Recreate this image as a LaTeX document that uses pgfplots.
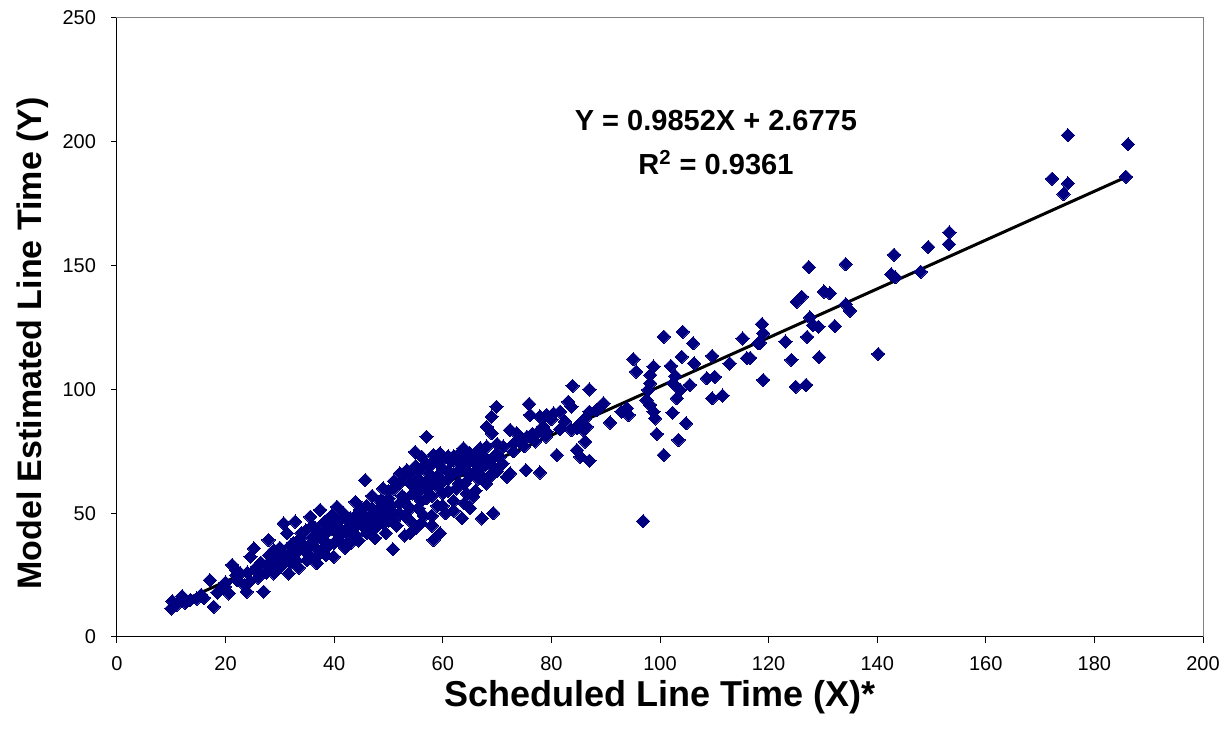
\documentclass[border=0pt]{standalone}
\usepackage{pgfplots}
\pgfplotsset{compat=1.18}
\usepackage{fontspec}
\setmainfont{Liberation Sans}
\definecolor{navyc}{HTML}{000080}
\definecolor{frame}{HTML}{808080}
\begin{document}
\begin{tikzpicture}
\path[use as bounding box] (-58.5pt,-51pt) rectangle (555.5pt,318.5pt);
\begin{axis}[
  at={(0,0)}, anchor=south west,
  scale only axis, width=543pt, height=309.5pt,
  xmin=0, xmax=200, ymin=0, ymax=250,
  xtick={0,20,...,200}, ytick={0,50,...,250},
  xtick pos=bottom, ytick pos=left,
  tick align=outside, major tick length=3pt,
  tick style={black, line width=0.5pt},
  axis line style={frame, line width=0.5pt},
  /pgf/number format/assume math mode=true,
  ticklabel style={font=\fontsize{10}{12}\selectfont},
  xticklabel style={yshift=-3pt},
  yticklabel style={xshift=-4pt},
  xlabel={\bfseries Scheduled Line Time (X)*},
  ylabel={\bfseries Model Estimated Line Time (Y)},
  xlabel style={font=\fontsize{18}{20}\selectfont, yshift=2pt},
  ylabel style={font=\fontsize{17}{20}\selectfont, yshift=0pt, xshift=-8pt},
  clip=false,
]
\addplot[only marks, mark=square*, mark size=2.35pt,
  mark options={rotate=45, fill=navyc, draw=navyc, line width=0pt}]
coordinates {
(10,11.5)(10.2,14.5)(11,13)(12,16.5)(12.6,13.8)(13.5,15)(14.7,15.5)(15.5,17)(16,15.8)(17.1,23)(17.8,12.2)(18.5,18)(19.5,20)(20,22)(19.9,20.3)(20.6,17.6)
(21.2,29.1)(22,25)(22.1,23)(22.7,25.7)(23.5,21)(23.9,18.3)(24.5,22.5)(24.6,32.4)(25.2,35.8)(25.5,27)(25.8,28.4)(26,24)(26.5,30)(27,18.3)(27.5,26)(27.9,39.2)(28,33)(28.5,29)(28.9,35.1)(28.9,25.7)(29.5,31)(30,36)(30.1,28.4)(30.5,33)
(30.7,45.9)(31.3,41.9)(31.6,25.7)(31.9,36.5)(32,30)(32.5,38)(32.8,46.6)(33,34)(33.5,28)(33.8,40)(34.4,35.1)(34.8,43)(35,31)(35.6,48.6)(35.6,32.4)(36,38)(36.5,44)(36.8,41.9)(36.8,29.8)(37,35)(37.4,51.3)(37.5,40)(38,46)(38.1,39.2)(38.5,33)(38.7,47.3)(39,43)(39.5,49)(39.9,32.4)(40,38)(40.5,52.6)(40.5,45)
(41,41)(41.7,50)(42,36)(42.4,37.8)(42.5,47)(43,41.9)(43.5,44)(43.9,54.6)(44,49)(44.5,39)(44.8,51.3)(45,46)(45.4,44.5)(45.7,63.4)(46,42)(46.5,48)(47,52)(47.5,40)(48,45)(48.5,55)(49,50)(49.5,42)(50,47)(50,56)
(50.5,53)(50.8,35.5)(51,60)(51.5,45)(52,50)(52.1,66.1)(52.5,57)(53,41)(53.4,67.4)(53.5,53)(54,62)(54,47)(54.5,58)(54.9,74.8)(55,44)(55.5,64)(55.5,52)(56,60)(56.1,72.8)(56.5,49)(57,80.9)(57,56)(57.5,66)(58,45)(58.3,73.5)(58.3,39.2)(58.5,62)(59,53)(59.5,74.2)(59.5,41.9)(60,58)(60,68)
(60.5,50)(61,64)(61.5,71)(62,55)(62.5,60)(63,67)(63.5,48)(63.8,76.2)(64,62)(64.4,58)(65,74.2)(65,52)(65.6,56.7)(66,70)(66.5,64)(66.9,76.2)(67,68)(67.2,47.9)(67.5,64.1)(68,72)(68.1,76.9)(68.1,84.9)(68.7,64.7)(69,89)(69,82.3)(69.3,50)(69.5,73)(69.9,93)(70,78)
(70.5,72.8)(71.1,76.9)(71.8,64.7)(72.4,83.6)(72.4,66.1)(73,78)(73.6,82.3)(74,80)(75.3,67.4)(75.5,80.9)(75.9,94.1)(76.1,89.7)(76.5,82)(77.3,82.3)(77.9,89)(77.9,66.4)(78.5,85)(79.1,89.7)(79.1,82.9)(80,88)
(80.4,90.3)(81,73.5)(81.6,91)(81.6,83.9)(82.5,87)(83.1,95)(83.7,93)(83.7,83.6)(83.9,101.4)(84.7,84.3)(84.7,75.5)(85.3,86.3)(85.3,72.8)(85.9,83.6)(86.2,88.3)(86.2,78.9)(86.5,84.9)(87,100)(87,91)(87,71.2)(88.3,91.7)(89,93)(89.6,94.4)(90.8,86.6)
(92.9,91)(93.9,92.4)(94.2,89.7)(95.1,112.2)(95.6,107.2)(96.9,46.8)(97.5,95.7)(97.8,99.8)(98.2,102.5)(98.2,105.8)(98.2,93.7)(98.8,109.2)(98.8,91)(99.1,88.3)(99.4,82)(100.7,121.3)(100.7,73.5)
(102,109.5)(102.3,90.6)(102.4,102.5)(102.8,105.4)(103.1,96.4)(103.4,79.6)(103.7,99.8)(104,113.2)(104.2,123.3)(104.8,86.3)(105.5,101.8)(106.1,118.6)(106.3,110.5)(108.6,104.5)(109.6,113.5)(109.6,96.4)(110.1,105.1)(111.5,97.5)(112.8,110.5)(115.2,120.6)(116,112.6)(116.6,112.7)(118.1,118.6)(118.4,118.9)(118.8,126.4)(119,122.7)(119,103.8)
(123.1,119.3)(124.2,111.9)(125,101.1)(125.2,135.4)(126.1,137.4)(126.9,101.8)(127.1,121.2)(127.4,149.4)(127.6,129.1)(128.2,126)(129.2,125.3)(129.3,113)(130.2,139.5)(131.3,138.8)(132.2,125.6)(134.2,150.6)(134.2,134.4)(135,131.8)(140.2,114.3)(142.6,146.5)(143.1,154.4)(143.3,145.3)(148,147.5)(149.4,157.5)(153.2,158.7)(153.3,163.4)(172.2,185.1)(174.3,178.9)(175.1,183.2)(175.1,202.7)(185.8,185.9)(186.2,199)
(31,33)(32,37)(33,31)(34,38)(35,36)(36,40)(37,33)(38,42)(39,37)(40,44)(41,47)(42,43)(43,48)(44,45)(45,50)(46,46)(47,47)(48,51)(49,46)(50,52)(51,50)(52,54)(53,56)(54,52)(55,58)(56,55)(57,60)(58,57)(59,61)(60,63)(61,59)(62,66)(63,62)(64,68)(65,65)(66,67)(67,72)(68,70)(69,69)(70,74)
(45,52)(47,43)(49,54)(51,47)(53,49)(55,61)(57,63)(59,65)(61,67)(63,70)(65,71)(42,49)(44,41)(46,53)(48,48)(50,59)(52,62)(54,66)(56,68)(58,70)(60,72)(62,73)(64,72)(66,74)(40,48)(38,36)(36,45)(34,42)(32,34)(30,31)(28,30)(26,28)(24,26)(22,27)
(39,45)(41,39)(43,38)(47,57)(49,60)(51,63)(53,65)(55,69)(57,70)(59,71)(61,73)(63,74)(67,75)(69,66)(71,70)(73,75)(75,77)(77,79)(79,81)(54,42)(56,46)(58,49)(60,53)(62,51)(64,54)(66,59)(68,62)(70,67)
};
\addplot[black, line width=1.5pt] coordinates {(10,12.53)(186.2,186.12)};
\draw[black, line width=0.5pt] (rel axis cs:0,0) -- (rel axis cs:1,0);
\draw[black, line width=0.5pt] (rel axis cs:0,0) -- (rel axis cs:0,1);
\node[align=center, font=\fontsize{14.5}{22}\selectfont\bfseries] at (axis cs:110.3,199.5)
  {Y = 0.9852X + 2.6775\\R$^{\mathbf{2}}$ = 0.9361};
\end{axis}
\end{tikzpicture}
\end{document}
